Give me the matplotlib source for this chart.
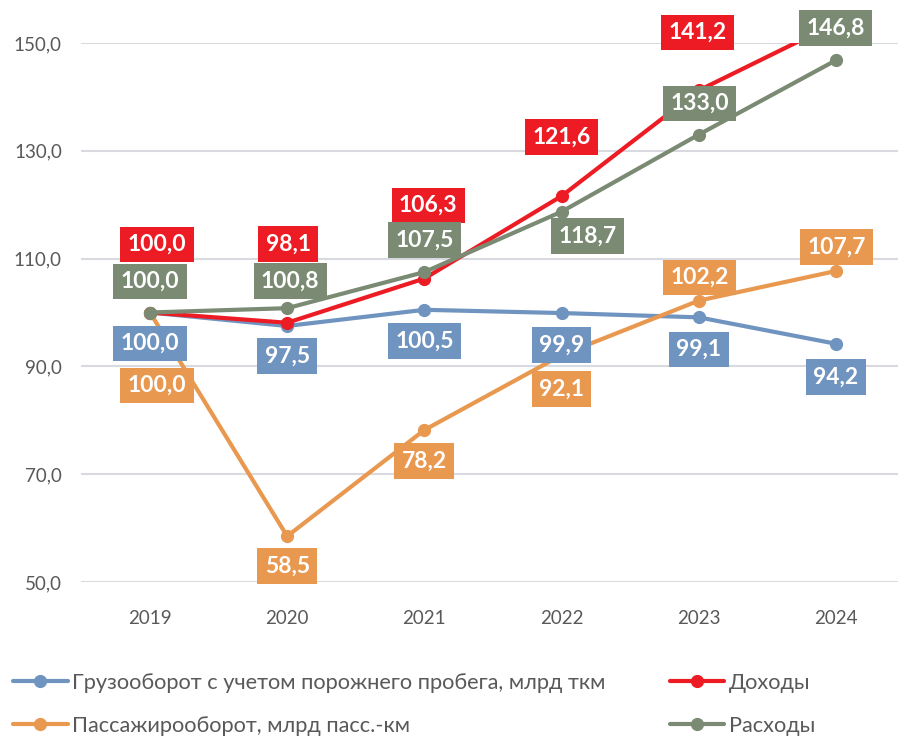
import matplotlib
matplotlib.use("Agg")
import matplotlib.pyplot as plt
from matplotlib.ticker import FuncFormatter

plt.rcParams['font.family'] = ['Lato', 'DejaVu Sans']

# Data
years = ["2019", "2020", "2021", "2022", "2023", "2024"]
cargo = [100.0, 97.5, 100.5, 99.9, 99.1, 94.2]
income = [100.0, 98.1, 106.3, 121.6, 141.2, 153.7]
passengers = [100.0, 58.5, 78.2, 92.1, 102.2, 107.7]
expenses = [100.0, 100.8, 107.5, 118.7, 133.0, 146.8]

names = {
    "cargo": "Грузооборот с учетом порожнего пробега, млрд ткм",
    "income": "Доходы",
    "passengers": "Пассажирооборот, млрд пасс.-км",
    "expenses": "Расходы",
}
colors = {
    "cargo": "#7094C0",
    "income": "#ED1C24",
    "passengers": "#E9984F",
    "expenses": "#7A8A73",
}

# label offsets in pixels (dx, dy), dy positive = up
offsets = {
    "cargo": [(0, -31), (0, -30), (0, -31), (0, -32), (0, -32), (0, -33)],
    "income": [(7, 68), (1, 79), (4, 73), (0, 59), (-1, 58), (0, 58)],
    "passengers": [(7, -73), (0, -30), (0, -31), (0, -34), (1, 23), (1, 24)],
    "expenses": [(0, 31), (3, 27), (0, 32), (26, -24), (1, 31), (0, 32)],
}

series = {"cargo": cargo, "income": income, "passengers": passengers, "expenses": expenses}

fig = plt.figure(figsize=(8.98, 7.40), dpi=100)
ax = fig.add_axes([0.0906, 0.2135, 0.9167, 0.7284])

x = list(range(len(years)))
handles = {}
for key in ["cargo", "income", "passengers", "expenses"]:
    line, = ax.plot(x, series[key], color=colors[key], lw=3.0, marker="o",
                    markersize=8.5, solid_capstyle="round", label=names[key])
    handles[key] = line

for key in ["cargo", "income", "passengers", "expenses"]:
    for i, v in enumerate(series[key]):
        dx, dy = offsets[key][i]
        ax.annotate(f"{v:.1f}".replace(".", ","), (x[i], v),
                    xytext=(dx, dy), textcoords="offset pixels",
                    ha="center", va="center", color="white",
                    fontsize=16.5, fontweight="bold", zorder=10,
                    bbox=dict(boxstyle="square,pad=0.32", fc=colors[key], ec="none"))

ax.set_xlim(-0.5, len(years) - 0.5)
ax.set_ylim(50, 150)
ax.set_yticks([50, 70, 90, 110, 130, 150])
ax.yaxis.set_major_formatter(FuncFormatter(lambda v, p: f"{v:.1f}".replace(".", ",")))
ax.set_xticks(x)
ax.set_xticklabels(years)
ax.tick_params(axis="both", length=0, labelsize=13.5, labelcolor="#595959")
ax.tick_params(axis="y", pad=14)
ax.tick_params(axis="x", pad=20)
ax.grid(axis="y", color="#D9D9E0", lw=1.5)
ax.set_axisbelow(True)
for s in ax.spines.values():
    s.set_visible(False)

order = ["cargo", "passengers", "income", "expenses"]
fig.legend([handles[k] for k in order], [names[k] for k in order],
           loc="upper left", bbox_to_anchor=(0.005, 0.103), ncol=2, frameon=False,
           fontsize=15.7, labelcolor="#595959", handlelength=2.5, handletextpad=0.2,
           columnspacing=2.95, labelspacing=1.08, borderaxespad=0)

fig.savefig("out.png", dpi=100)
